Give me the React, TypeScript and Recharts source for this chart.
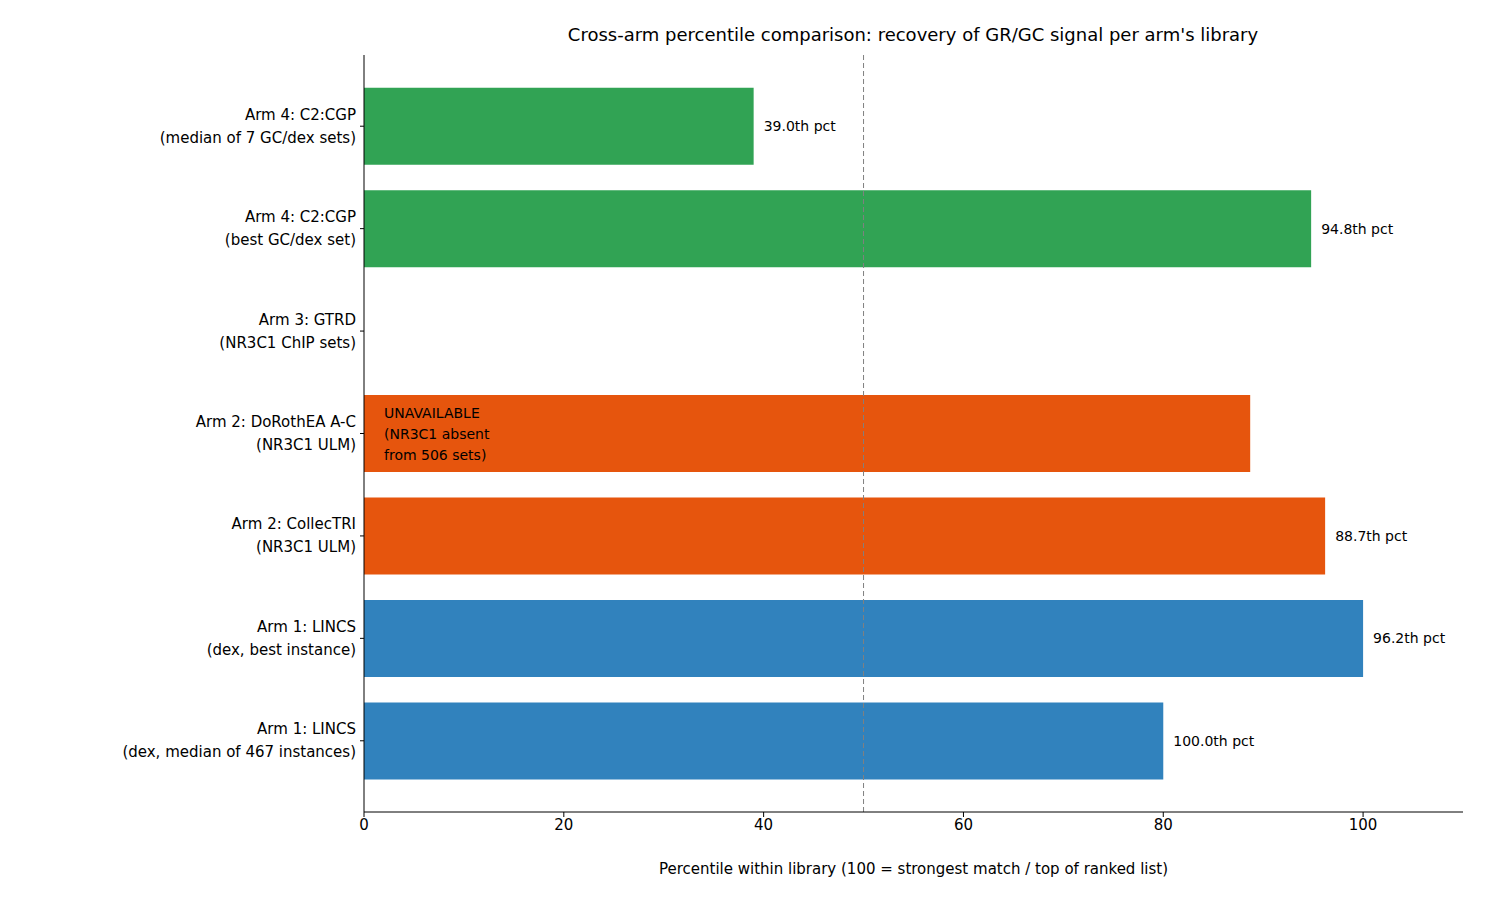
import React from 'react';
import { BarChart, Bar, XAxis, YAxis, ReferenceLine, Cell, LabelList } from 'recharts';

const categories = [
  'Arm 4: C2:CGP\n(median of 7 GC/dex sets)',
  'Arm 4: C2:CGP\n(best GC/dex set)',
  'Arm 3: GTRD\n(NR3C1 ChIP sets)',
  'Arm 2: DoRothEA A-C\n(NR3C1 ULM)',
  'Arm 2: CollecTRI\n(NR3C1 ULM)',
  'Arm 1: LINCS\n(dex, best instance)',
  'Arm 1: LINCS\n(dex, median of 467 instances)',
];
const percentiles = [39.0, 94.8, 0, 88.7, 96.2, 100.0, 80.0];
const available = [true, true, false, true, true, true, true];
const colors = ['#31a354', '#31a354', '#ffffff', '#e6550d', '#e6550d', '#3182bd', '#3182bd'];
const xTicks = [0, 20, 40, 60, 80, 100];
const unavailableNote = ['UNAVAILABLE', '(NR3C1 absent', 'from 506 sets)'];

const data = categories.map((c, i) => ({ name: c, value: percentiles[i], ok: available[i] }));
const font = 'DejaVu Sans, sans-serif';

const YTick = (props: any) => {
  const { x, y, payload } = props;
  const lines = String(payload.value).split('\n');
  return (
    <g>
      <line x1={x + 4} x2={x + 8} y1={y} y2={y} stroke="#000" />
      {lines.map((l, i) => (
        <text key={i} x={x} y={y + (i - (lines.length - 1) / 2) * 23 + 5} textAnchor="end" fontSize={15} fontFamily={font} fill="#000">{l}</text>
      ))}
    </g>
  );
};

const BarLabel = (props: any) => {
  const { x, y, width, height, index } = props;
  const d = data[index];
  if (!d.ok) {
    return (
      <g>
        {unavailableNote.map((l, i) => (
          <text key={i} x={x + 20} y={y + height / 2 + (i - 1) * 21 + 5} fontSize={14} fontFamily={font} fill="#000">{l}</text>
        ))}
      </g>
    );
  }
  return (
    <text x={x + width + 10} y={y + height / 2 + 5} fontSize={14} fontFamily={font} fill="#000">
      {d.value.toFixed(1)}th pct
    </text>
  );
};

export default function App() {
  return (
    <div style={{ position: 'absolute', left: 0, top: 0, width: 1500, height: 900, background: '#fff' }}>
      <BarChart width={1500} height={900} data={data} layout="vertical"
        margin={{ top: 55, right: 37, left: 8, bottom: 38 }} barCategoryGap="12.5%">
        <text x={913} y={41} textAnchor="middle" fontSize={18} fontFamily={font}>
          Cross-arm percentile comparison: recovery of GR/GC signal per arm's library
        </text>
        <XAxis type="number" domain={[0, 110]} ticks={xTicks} height={50}
          tick={{ fontSize: 15, fontFamily: font, fill: '#000' }} tickSize={5}
          axisLine={{ stroke: '#000' }} tickLine={{ stroke: '#000' }}
          label={{ value: 'Percentile within library (100 = strongest match / top of ranked list)', position: 'insideBottom', offset: -12, fontSize: 15, fontFamily: font, fill: '#000' }} />
        <XAxis xAxisId="top" type="number" orientation="top" domain={[0, 110]} tick={false} tickLine={false} height={0} axisLine={{ stroke: '#000' }} />
        <YAxis type="category" dataKey="name" width={356} interval={0} tick={<YTick />} tickLine={false}
          axisLine={{ stroke: '#000' }} padding={{ top: 20, bottom: 20 }} />
        <YAxis yAxisId="r" type="category" dataKey="name" orientation="right" width={0} tick={false} tickLine={false} axisLine={{ stroke: '#000' }} />
        <ReferenceLine x={50} stroke="#808080" strokeDasharray="5 3" />
        <Bar dataKey="value" isAnimationActive={false}>
          {data.map((d, i) => <Cell key={i} fill={colors[i]} />)}
          <LabelList dataKey="value" content={<BarLabel />} />
        </Bar>
      </BarChart>
    </div>
  );
}
